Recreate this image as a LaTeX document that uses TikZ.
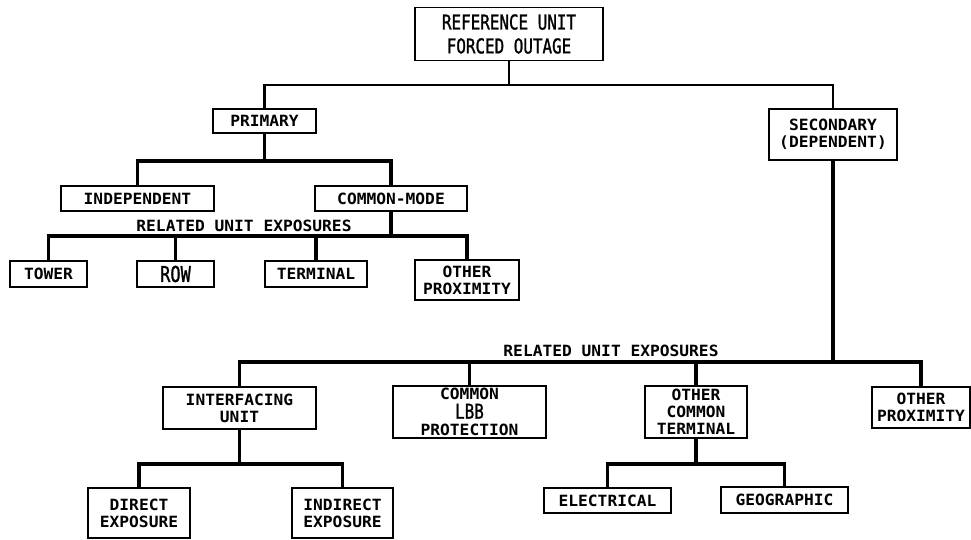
\documentclass[tikz,border=0pt]{standalone}
\usepackage{fontspec}
\setmainfont{DejaVu Sans Mono}
\newfontfamily\labelfont{DejaVu Sans Mono}[FakeStretch=1.05]
\newfontfamily\narrowfont{DejaVu Sans Mono}[FakeStretch=0.78, FakeBold=1.2]
\usetikzlibrary{positioning}

\begin{document}
\begin{tikzpicture}[
    x=0.025cm, y=-0.025cm,
    box/.style={rectangle, draw=black, line width=1.1pt, inner sep=0pt, align=center, font=\labelfont\bfseries\fontsize{11}{12}\selectfont},
    dims/.style 2 args={minimum width=#1*0.025cm, minimum height=#2*0.025cm},
    caption/.style={inner sep=0pt, font=\labelfont\bfseries\fontsize{11}{12}\selectfont},
    toplink/.style={line width=1.5pt},
    link/.style={line width=2.2pt}
]
\useasboundingbox (0,0) rectangle (971,539);

% Root
\node[box, dims={188}{53}, font=\narrowfont\fontsize{14.5}{17}\selectfont] (ref) at (509,34) {REFERENCE UNIT\\FORCED OUTAGE};

% Primary / secondary
\node[box, dims={103}{24}] (primary) at (264.5,121) {PRIMARY};
\node[box, dims={128}{51}] (secondary) at (833,134.5) {SECONDARY\\(DEPENDENT)};

% Primary branch
\node[box, dims={153}{25}] (indep) at (137.5,198.5) {INDEPENDENT};
\node[box, dims={152}{25}] (common) at (391,198.5) {COMMON-MODE};

\node[box, dims={77}{26}] (tower) at (48.5,274) {TOWER};
\node[box, dims={77}{26}, font=\narrowfont\fontsize{15.5}{17}\selectfont] (row) at (175.5,274) {ROW};
\node[box, dims={102}{26}] (terminal) at (316,274) {TERMINAL};
\node[box, dims={104}{40}] (prox1) at (467,280) {OTHER\\PROXIMITY};

% Secondary branch
\node[box, dims={153}{42}] (interf) at (239.5,408) {INTERFACING\\UNIT};
\node[box, dims={153}{52}] (lbb) at (469.5,412) {COMMON\\[1.5pt]{\narrowfont\mdseries\fontsize{14.5}{12}\selectfont LBB}\\PROTECTION};
\node[box, dims={102}{52}] (oct) at (696,412) {OTHER\\COMMON\\TERMINAL};
\node[box, dims={98}{41}] (prox2) at (921,407.5) {OTHER\\PROXIMITY};

\node[box, dims={102}{50}] (direct) at (139,513) {DIRECT\\EXPOSURE};
\node[box, dims={101}{50}] (indirect) at (342.5,513) {INDIRECT\\EXPOSURE};
\node[box, dims={127}{25}] (elec) at (607.5,500.5) {ELECTRICAL};
\node[box, dims={127}{26}] (geo) at (784.5,500) {GEOGRAPHIC};

% Bus levels
\coordinate (bus1) at (0,85);
\coordinate (bus2) at (0,161);
\coordinate (bus3) at (0,236);
\coordinate (bus4) at (0,362);
\coordinate (bus5) at (0,464);

% Connectors
\draw[toplink] (ref.south) -- (ref.south |- bus1);
\draw[toplink] (primary.north) |- (secondary.north |- bus1) -- (secondary.north);

\draw[link] (primary.south) -- (primary.south |- bus2);
\draw[link] (indep.north) |- (common.north |- bus2) -- (common.north);

\draw[link] (common.south) -- (common.south |- bus3);
\draw[link] (tower.north) |- (prox1.north |- bus3) -- (prox1.north);
\draw[link] (row.north) -- (row.north |- bus3);
\draw[link] (terminal.north) -- (terminal.north |- bus3);

\draw[link] (secondary.south) -- (secondary.south |- bus4);
\draw[link] (interf.north) |- (prox2.north |- bus4) -- (prox2.north);
\draw[link] (lbb.north) -- (lbb.north |- bus4);
\draw[link] (oct.north) -- (oct.north |- bus4);

\draw[link] (interf.south) -- (interf.south |- bus5);
\draw[link] (direct.north) |- (indirect.north |- bus5) -- (indirect.north);
\draw[link] (oct.south) -- (oct.south |- bus5);
\draw[link] (elec.north) |- (geo.north |- bus5) -- (geo.north);

% Bus labels
\node[caption] (rue1) at (244,226) {RELATED UNIT EXPOSURES};
\node[caption] (rue2) at (611,351) {RELATED UNIT EXPOSURES};

\end{tikzpicture}
\end{document}
